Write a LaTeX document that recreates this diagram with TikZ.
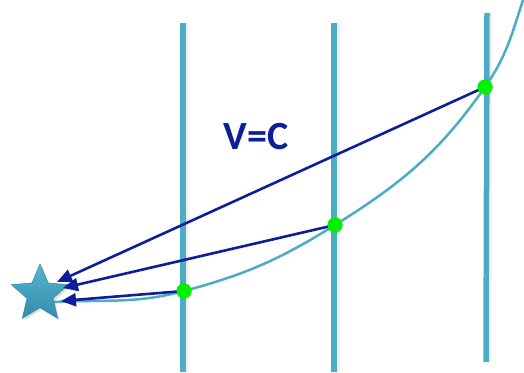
\documentclass[tikz,border=0pt]{standalone}
\usepackage{fontspec}
\setmainfont{Carlito}
\usetikzlibrary{arrows.meta, shapes.geometric, shadows}
\definecolor{azulclaro}{HTML}{4BACC6}
\definecolor{azulestrella}{HTML}{3AA6C8}
\definecolor{azulmarino}{HTML}{0C1E98}
\definecolor{verdepunto}{HTML}{00F000}
\colorlet{colLinea}{azulclaro}
\colorlet{colFlecha}{azulmarino}
\tikzset{
  lineaCorte/.style={line width=5.5pt, colLinea},
  sombraLinea/.style={line width=7pt, black, opacity=0.06},
  curvaBase/.style={line width=2.5pt, colLinea},
  flecha/.style={-{Triangle[length=15pt,width=13pt]}, line width=2.6pt, colFlecha},
  puntoVerde/.style={circle, fill=verdepunto, minimum size=15pt, inner sep=0pt},
  estrellaBase/.style={star, star points=5, star point ratio=2.2,
    minimum size=60pt, inner sep=0pt, draw=azulestrella!85!black, line width=0.6pt,
    top color=azulestrella!85!white, bottom color=azulestrella!85!black,
    drop shadow={opacity=0.25, shadow xshift=2pt, shadow yshift=-2pt}},
  etiqueta/.style={font=\fontsize{40}{40}\selectfont\bfseries, text=colFlecha}
}
\begin{document}
\begin{tikzpicture}[x=1pt, y=-1pt]
  \useasboundingbox (0,0) rectangle (524,372);
  % lineas verticales
  \draw[sombraLinea] (185,23) -- (185,372);
  \draw[sombraLinea] (336,23) -- (336,372);
  \draw[sombraLinea] (489,13) -- (488,362);
  \draw[lineaCorte] (183,23) -- (183,372);
  \draw[lineaCorte] (334,23) -- (334,372);
  \draw[lineaCorte] (487,13) -- (486,362);

  \node[puntoVerde] (p1) at (184,291) {};
  \node[puntoVerde] (p2) at (335,225) {};
  \node[puntoVerde] (p3) at (485,87) {};
  \coordinate (inicio) at (54,302);
  \coordinate (fin) at (523,0);

  % curva
  \draw[curvaBase] (inicio) to[out=3,in=195] (p1.center)
    to[out=15,in=212] (p2.center)
    to[out=32,in=235] (p3.center)
    to[out=55,in=252] (fin);

  \node[estrellaBase] (meta) at (40,294) {};
  \coordinate (t1) at (57,282);
  \coordinate (t2) at (63,288);
  \coordinate (t3) at (61,301);

  \draw[flecha] (p3.center) -- (t1);
  \draw[flecha] (p2.center) -- (t2);
  \draw[flecha] (p1.center) -- (t3);

  \node[puntoVerde] at (p1) {};
  \node[puntoVerde] at (p2) {};
  \node[puntoVerde] at (p3) {};

  \node[etiqueta] (vc) at (256,137) {V=C};
\end{tikzpicture}
\end{document}
